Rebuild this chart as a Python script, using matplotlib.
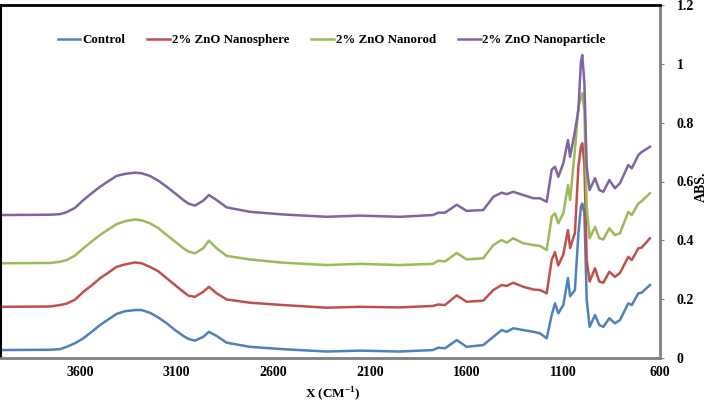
import matplotlib.pyplot as plt

plt.rcParams['font.family'] = ['Liberation Serif', 'DejaVu Serif']
plt.rcParams['font.weight'] = 'bold'
plt.rcParams['mathtext.fontset'] = 'custom'
plt.rcParams['mathtext.rm'] = 'Liberation Serif:bold'
plt.rcParams['mathtext.bf'] = 'Liberation Serif:bold'

wavenumber = [4000, 3755, 3703, 3668, 3626, 3582, 3539, 3496, 3453, 3410, 3367, 3315, 3281,
              3238, 3195, 3151, 3108, 3065, 3039, 3005, 2962, 2933,
              2893, 2841, 2721, 2550, 2324, 2152, 1945, 1774, 1747, 1712, 1651, 1600,
              1514, 1462, 1419, 1393, 1359, 1307, 1255, 1221, 1186, 1160, 1143, 1126,
              1100, 1076, 1065, 1040, 1022, 1009, 1002, 991, 979, 964, 936, 914, 893,
              862, 833, 807, 764, 746, 712, 695, 652]

control = [0.027, 0.028, 0.030, 0.038, 0.050, 0.067, 0.089, 0.112, 0.131, 0.150, 0.159, 0.163, 0.163,
           0.154, 0.138, 0.118, 0.095, 0.075, 0.065, 0.059, 0.072, 0.089,
           0.075, 0.052, 0.038, 0.030, 0.022, 0.025, 0.022, 0.027, 0.035, 0.033, 0.061, 0.038,
           0.044, 0.072, 0.095, 0.089, 0.101, 0.095, 0.089, 0.084, 0.067, 0.146, 0.186, 0.152,
           0.180, 0.272, 0.210, 0.231, 0.424, 0.514, 0.525, 0.492, 0.197, 0.106, 0.146, 0.112, 0.106,
           0.135, 0.118, 0.129, 0.186, 0.180, 0.220, 0.222, 0.248]

nanosphere = [0.174, 0.175, 0.180, 0.185, 0.198, 0.225, 0.247, 0.271, 0.290, 0.310, 0.318, 0.325, 0.322,
              0.310, 0.295, 0.271, 0.248, 0.225, 0.212, 0.208, 0.225, 0.242,
              0.220, 0.199, 0.188, 0.180, 0.171, 0.174, 0.172, 0.177, 0.182, 0.180, 0.213, 0.191,
              0.195, 0.231, 0.248, 0.245, 0.256, 0.242, 0.233, 0.231, 0.220, 0.333, 0.360, 0.315,
              0.352, 0.435, 0.374, 0.425, 0.650, 0.718, 0.730, 0.660, 0.333, 0.260, 0.305, 0.260, 0.256,
              0.293, 0.276, 0.289, 0.344, 0.333, 0.373, 0.375, 0.407]

nanorod = [0.322, 0.323, 0.327, 0.333, 0.348, 0.373, 0.396, 0.418, 0.437, 0.455, 0.465, 0.471, 0.468,
           0.458, 0.442, 0.418, 0.396, 0.373, 0.362, 0.356, 0.373, 0.399,
           0.373, 0.347, 0.335, 0.324, 0.316, 0.320, 0.316, 0.320, 0.331, 0.328, 0.357, 0.335,
           0.339, 0.384, 0.401, 0.392, 0.407, 0.390, 0.384, 0.381, 0.367, 0.480, 0.492, 0.458,
           0.492, 0.588, 0.537, 0.707, 0.854, 0.885, 0.900, 0.840, 0.514, 0.407, 0.446, 0.407, 0.403,
           0.441, 0.418, 0.424, 0.497, 0.486, 0.525, 0.533, 0.560]

nanoparticle = [0.486, 0.487, 0.489, 0.496, 0.510, 0.537, 0.560, 0.582, 0.601, 0.619, 0.626, 0.630, 0.628,
                0.619, 0.603, 0.582, 0.560, 0.537, 0.525, 0.518, 0.535, 0.554,
                0.537, 0.512, 0.497, 0.488, 0.480, 0.484, 0.480, 0.486, 0.494, 0.494, 0.521, 0.500,
                0.503, 0.548, 0.562, 0.557, 0.565, 0.554, 0.543, 0.543, 0.531, 0.640, 0.650, 0.616,
                0.662, 0.741, 0.684, 0.770, 0.843, 1.007, 1.030, 0.934, 0.650, 0.571, 0.611, 0.571, 0.565,
                0.605, 0.577, 0.594, 0.656, 0.645, 0.690, 0.700, 0.718]

labels = ["Control", "2% ZnO Nanosphere", "2% ZnO Nanorod", "2% ZnO Nanoparticle"]
colors = ["#4F81BD", "#C0504D", "#9BBB59", "#8064A2"]
xticks = [3600, 3100, 2600, 2100, 1600, 1100, 600]
yticks = [0, 0.2, 0.4, 0.6, 0.8, 1, 1.2]

fig = plt.figure(figsize=(7.09, 4.04), dpi=100)
ax = fig.add_axes([1 / 709, 1 - 358 / 404, 659 / 709, 353 / 404])

for ys, lab, c in zip([control, nanosphere, nanorod, nanoparticle], labels, colors):
    ax.plot(wavenumber, ys, color=c, lw=1.8, label=lab)

ax.set_xlim(4008, 600)
ax.set_ylim(0, 1.2)
ax.set_xticks(xticks)
ax.set_xticklabels([str(t) for t in xticks], fontsize=10, fontweight='bold')
ax.set_yticks(yticks)
ax.set_yticklabels(['0', '0.2', '0.4', '0.6', '0.8', '1', '1.2'], fontsize=10, fontweight='bold')
ax.yaxis.tick_right()
ax.tick_params(axis='y', length=3, color='#808080', pad=9)
ax.tick_params(axis='x', length=0, pad=6)

ax.spines['top'].set_color('black')
ax.spines['left'].set_color('black')
ax.spines['top'].set_linewidth(2)
ax.spines['left'].set_linewidth(1.5)
ax.spines['right'].set_color('#808080')
ax.spines['bottom'].set_color('#808080')
ax.spines['right'].set_linewidth(2)
ax.spines['bottom'].set_linewidth(2)

fig.text(333 / 709, 1 - 394 / 404, r'X (CM$^{-1}$)', fontsize=9.5, fontweight='bold',
         ha='center', va='center')
fig.text(701 / 709, 1 - 187 / 404, 'ABS.', fontsize=10, fontweight='bold',
         rotation=90, ha='center', va='center')

ax.legend(loc='center', bbox_to_anchor=(0.502, 0.9), ncol=4, frameon=False,
          handlelength=1.75, handletextpad=0.15, columnspacing=1.7,
          prop={'size': 9.3, 'weight': 'bold'})

fig.savefig('out.png', dpi=100)
